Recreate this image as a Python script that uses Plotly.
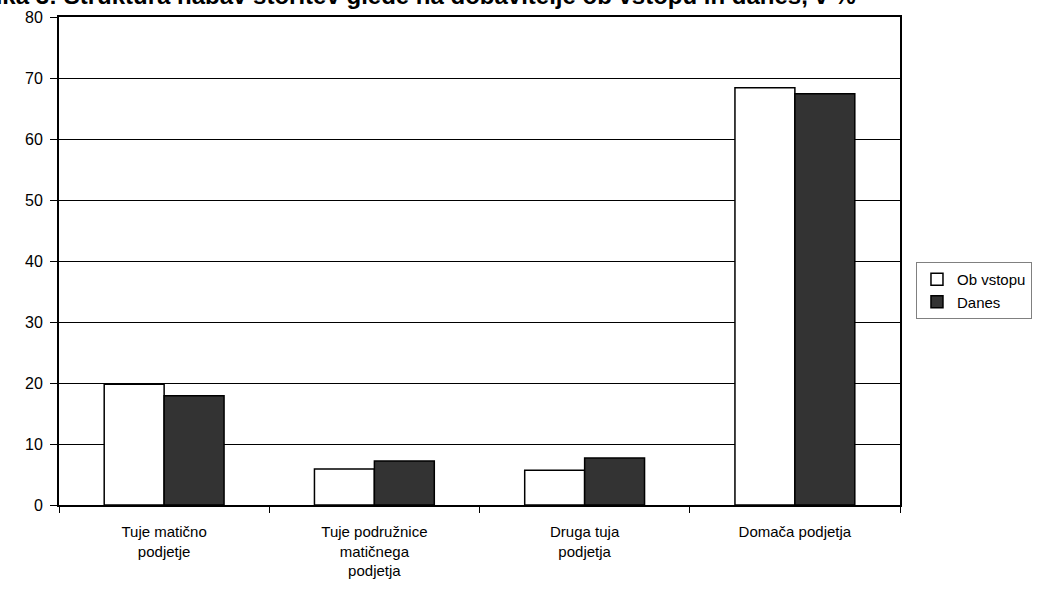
import plotly.graph_objects as go

categories = ["Tuje matično<br>podjetje", "Tuje podružnice<br>matičnega<br>podjetja",
              "Druga tuja<br>podjetja", "Domača podjetja"]
ob_vstopu = [19.8, 5.9, 5.7, 68.4]
danes = [17.9, 7.2, 7.7, 67.4]
title_text = "Slika 3: Struktura nabav storitev glede na dobavitelje ob vstopu in danes, v %"

font = "Liberation Sans, Arial, sans-serif"

fig = go.Figure()
fig.add_trace(go.Bar(name="Ob vstopu", x=categories, y=ob_vstopu,
                     marker=dict(color="white", line=dict(color="black", width=1.5))))
fig.add_trace(go.Bar(name="Danes", x=categories, y=danes,
                     marker=dict(color="#333333", line=dict(color="black", width=1.5))))

fig.update_layout(
    width=1061, height=592,
    margin=dict(l=59, r=161, t=17, b=87, pad=0, autoexpand=False),
    paper_bgcolor="white", plot_bgcolor="white",
    barmode="group", bargap=0.43, bargroupgap=0,
    font=dict(family=font, size=15, color="black"),
    showlegend=True,
    legend=dict(x=1.019, xanchor="left", y=0.498, yanchor="top",
                bordercolor="#808080", borderwidth=1, bgcolor="white",
                font=dict(size=15), tracegroupgap=0, itemwidth=30),
    annotations=[dict(text="<b>" + title_text + "</b>", xref="paper", yref="paper",
                      x=0.950, y=1.012, xanchor="right", yanchor="bottom",
                      showarrow=False, font=dict(size=24, family=font, color="black"))],
)
fig.update_yaxes(range=[0, 80], dtick=10, showgrid=True, gridcolor="black", gridwidth=1,
                 showline=True, linecolor="black", linewidth=2, mirror=True,
                 ticks="outside", ticklen=7, tickcolor="black", zeroline=False,
                 tickfont=dict(size=16), automargin=False, ticklabelstandoff=4)
fig.update_xaxes(showline=True, linecolor="black", linewidth=2, mirror=True,
                 ticks="outside", ticklen=6, tickcolor="black", tickson="boundaries",
                 tickfont=dict(size=15), automargin=False, ticklabelstandoff=12)

fig.write_html("out.html", config={"displayModeBar": False},
               post_script="document.body.style.margin='0';")
